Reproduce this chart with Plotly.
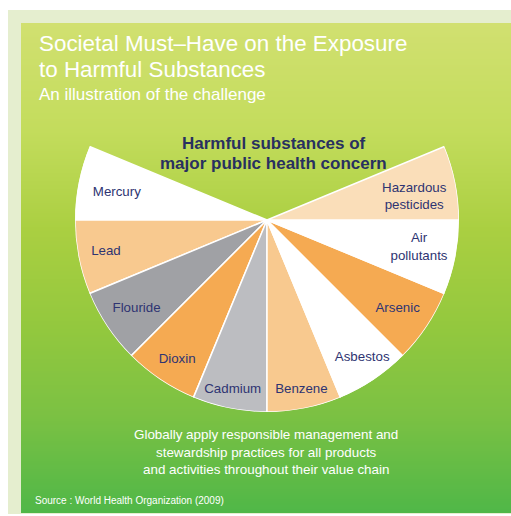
import plotly.graph_objects as go

# ---- data -------------------------------------------------------------
substances = ["Mercury", "Lead", "Flouride", "Dioxin", "Cadmium",
              "Benzene", "Asbestos", "Arsenic", "Air pollutants",
              "Hazardous pesticides"]
label_text = ["Mercury", "Lead", "Flouride", "Dioxin", "Cadmium",
              "Benzene", "Asbestos", "Arsenic", "Air<br>pollutants",
              "Hazardous<br>pesticides"]
weights = [1, 1, 1, 1, 1, 1, 1, 1, 1, 1]   # every substance weighted equally

# ---- styling ----------------------------------------------------------
W, H = 511, 516
slice_colors = ["#ffffff", "#f8c98f", "#a0a1a5", "#f5aa52", "#bcbdc1",
                "#f8c98f", "#ffffff", "#f5aa52", "#ffffff", "#fadeb9"]
label_radius = [0.795, 0.855, 0.823, 0.863, 0.90, 0.903, 0.87, 0.823, 0.805, 0.776]
label_shift = [0.9, 0.0, 0.6, 0.9, -0.2, 0.2, 1.0, -0.5, 0.9, -2.4]
navy = "#2e3472"
font = "Liberation Sans, Arial, sans-serif"

fan_start = 157.5      # fan opens at upper left and sweeps down round to upper right
fan_extent = 225.0     # degrees covered by the fan

# pie centre and radius in page pixels
cx, cy, rad = 267, 220, 192

# ---- geometry of the fan from the weights ------------------------------
total = sum(weights)
widths = [w / total * fan_extent for w in weights]
centers = []
edge = fan_start
for wd in widths:
    centers.append((edge + wd / 2) % 360)
    edge += wd

fig = go.Figure()

# green vertical gradient panel as a banded heatmap in pixel coordinates
px0, px1, py0, py1 = 21, 511, 23, 513
band = 2
y_edges = list(range(py0, py1 + 1, band))
if y_edges[-1] != py1:
    y_edges.append(py1)
z = [[(y_edges[i] - py0) / (py1 - py0)] for i in range(len(y_edges) - 1)]
grad = [[0.0, "#d1e070"], [0.22, "#c3dc5c"], [0.42, "#aacf41"],
        [0.62, "#93c83e"], [0.80, "#7bc143"], [1.0, "#4fb748"]]
fig.add_trace(go.Heatmap(x=[px0, px1], y=y_edges, z=z, colorscale=grad,
                         zmin=0, zmax=1, showscale=False, hoverinfo="skip",
                         xaxis="x", yaxis="y"))

# fan slices
fig.add_trace(go.Barpolar(
    r=[1] * len(substances), theta=centers, width=widths,
    marker=dict(color=slice_colors, line=dict(color="white", width=1.5)),
    hoverinfo="text", hovertext=substances, showlegend=False))

# slice labels
fig.add_trace(go.Scatterpolar(
    r=label_radius,
    theta=[c + s for c, s in zip(centers, label_shift)],
    mode="text", text=label_text, textposition="middle center",
    textfont=dict(family=font, size=13.3, color=navy),
    hoverinfo="skip", showlegend=False, cliponaxis=False))

fig.update_layout(
    width=W, height=H, autosize=False,
    margin=dict(l=0, r=0, t=0, b=0),
    paper_bgcolor="white", plot_bgcolor="rgba(0,0,0,0)",
    showlegend=False,
    xaxis=dict(range=[0, W], domain=[0, 1], visible=False, fixedrange=True),
    yaxis=dict(range=[H, 0], domain=[0, 1], visible=False, fixedrange=True),
    polar=dict(
        domain=dict(x=[(cx - rad) / W, (cx + rad) / W],
                    y=[1 - (cy + rad) / H, 1 - (cy - rad) / H]),
        bgcolor="rgba(0,0,0,0)",
        hole=0,
        radialaxis=dict(range=[0, 1], visible=False, showgrid=False),
        angularaxis=dict(rotation=0, direction="counterclockwise",
                         visible=False, showgrid=False),
    ),
    shapes=[dict(type="rect", xref="x", yref="y", x0=8, y0=10, x1=511, y1=514,
                 fillcolor="#e5eecf", line=dict(width=0), layer="below")],
)

def px_x(v):
    return v / W

def px_y(v):
    return 1 - v / H

notes = [
    dict(text="Societal Must\u2013Have on the Exposure", x=37, y=43, size=22.4,
         xanchor="left", color="white"),
    dict(text="to Harmful Substances", x=37, y=69, size=22.4,
         xanchor="left", color="white"),
    dict(text="An illustration of the challenge", x=37, y=94, size=17,
         xanchor="left", color="white"),
    dict(text="<b>Harmful substances of</b>", x=274, y=143, size=17,
         xanchor="center", color="#283060"),
    dict(text="<b>major public health concern</b>", x=273, y=163.5, size=17,
         xanchor="center", color="#283060"),
    dict(text="Globally apply responsible management and", x=266, y=434.5,
         size=13.4, xanchor="center", color="white"),
    dict(text="stewardship practices for all products", x=266, y=452,
         size=13.4, xanchor="center", color="white"),
    dict(text="and activities throughout their value chain", x=266, y=469,
         size=13.4, xanchor="center", color="white"),
    dict(text="Source : World Health Organization (2009)", x=33, y=500,
         size=10, xanchor="left", color="white"),
]
for n in notes:
    fig.add_annotation(text=n["text"], x=px_x(n["x"]), y=px_y(n["y"]),
                       xref="paper", yref="paper", showarrow=False,
                       xanchor=n["xanchor"], yanchor="middle",
                       font=dict(family=font, size=n["size"], color=n["color"]))

fig.write_html("out.html")
